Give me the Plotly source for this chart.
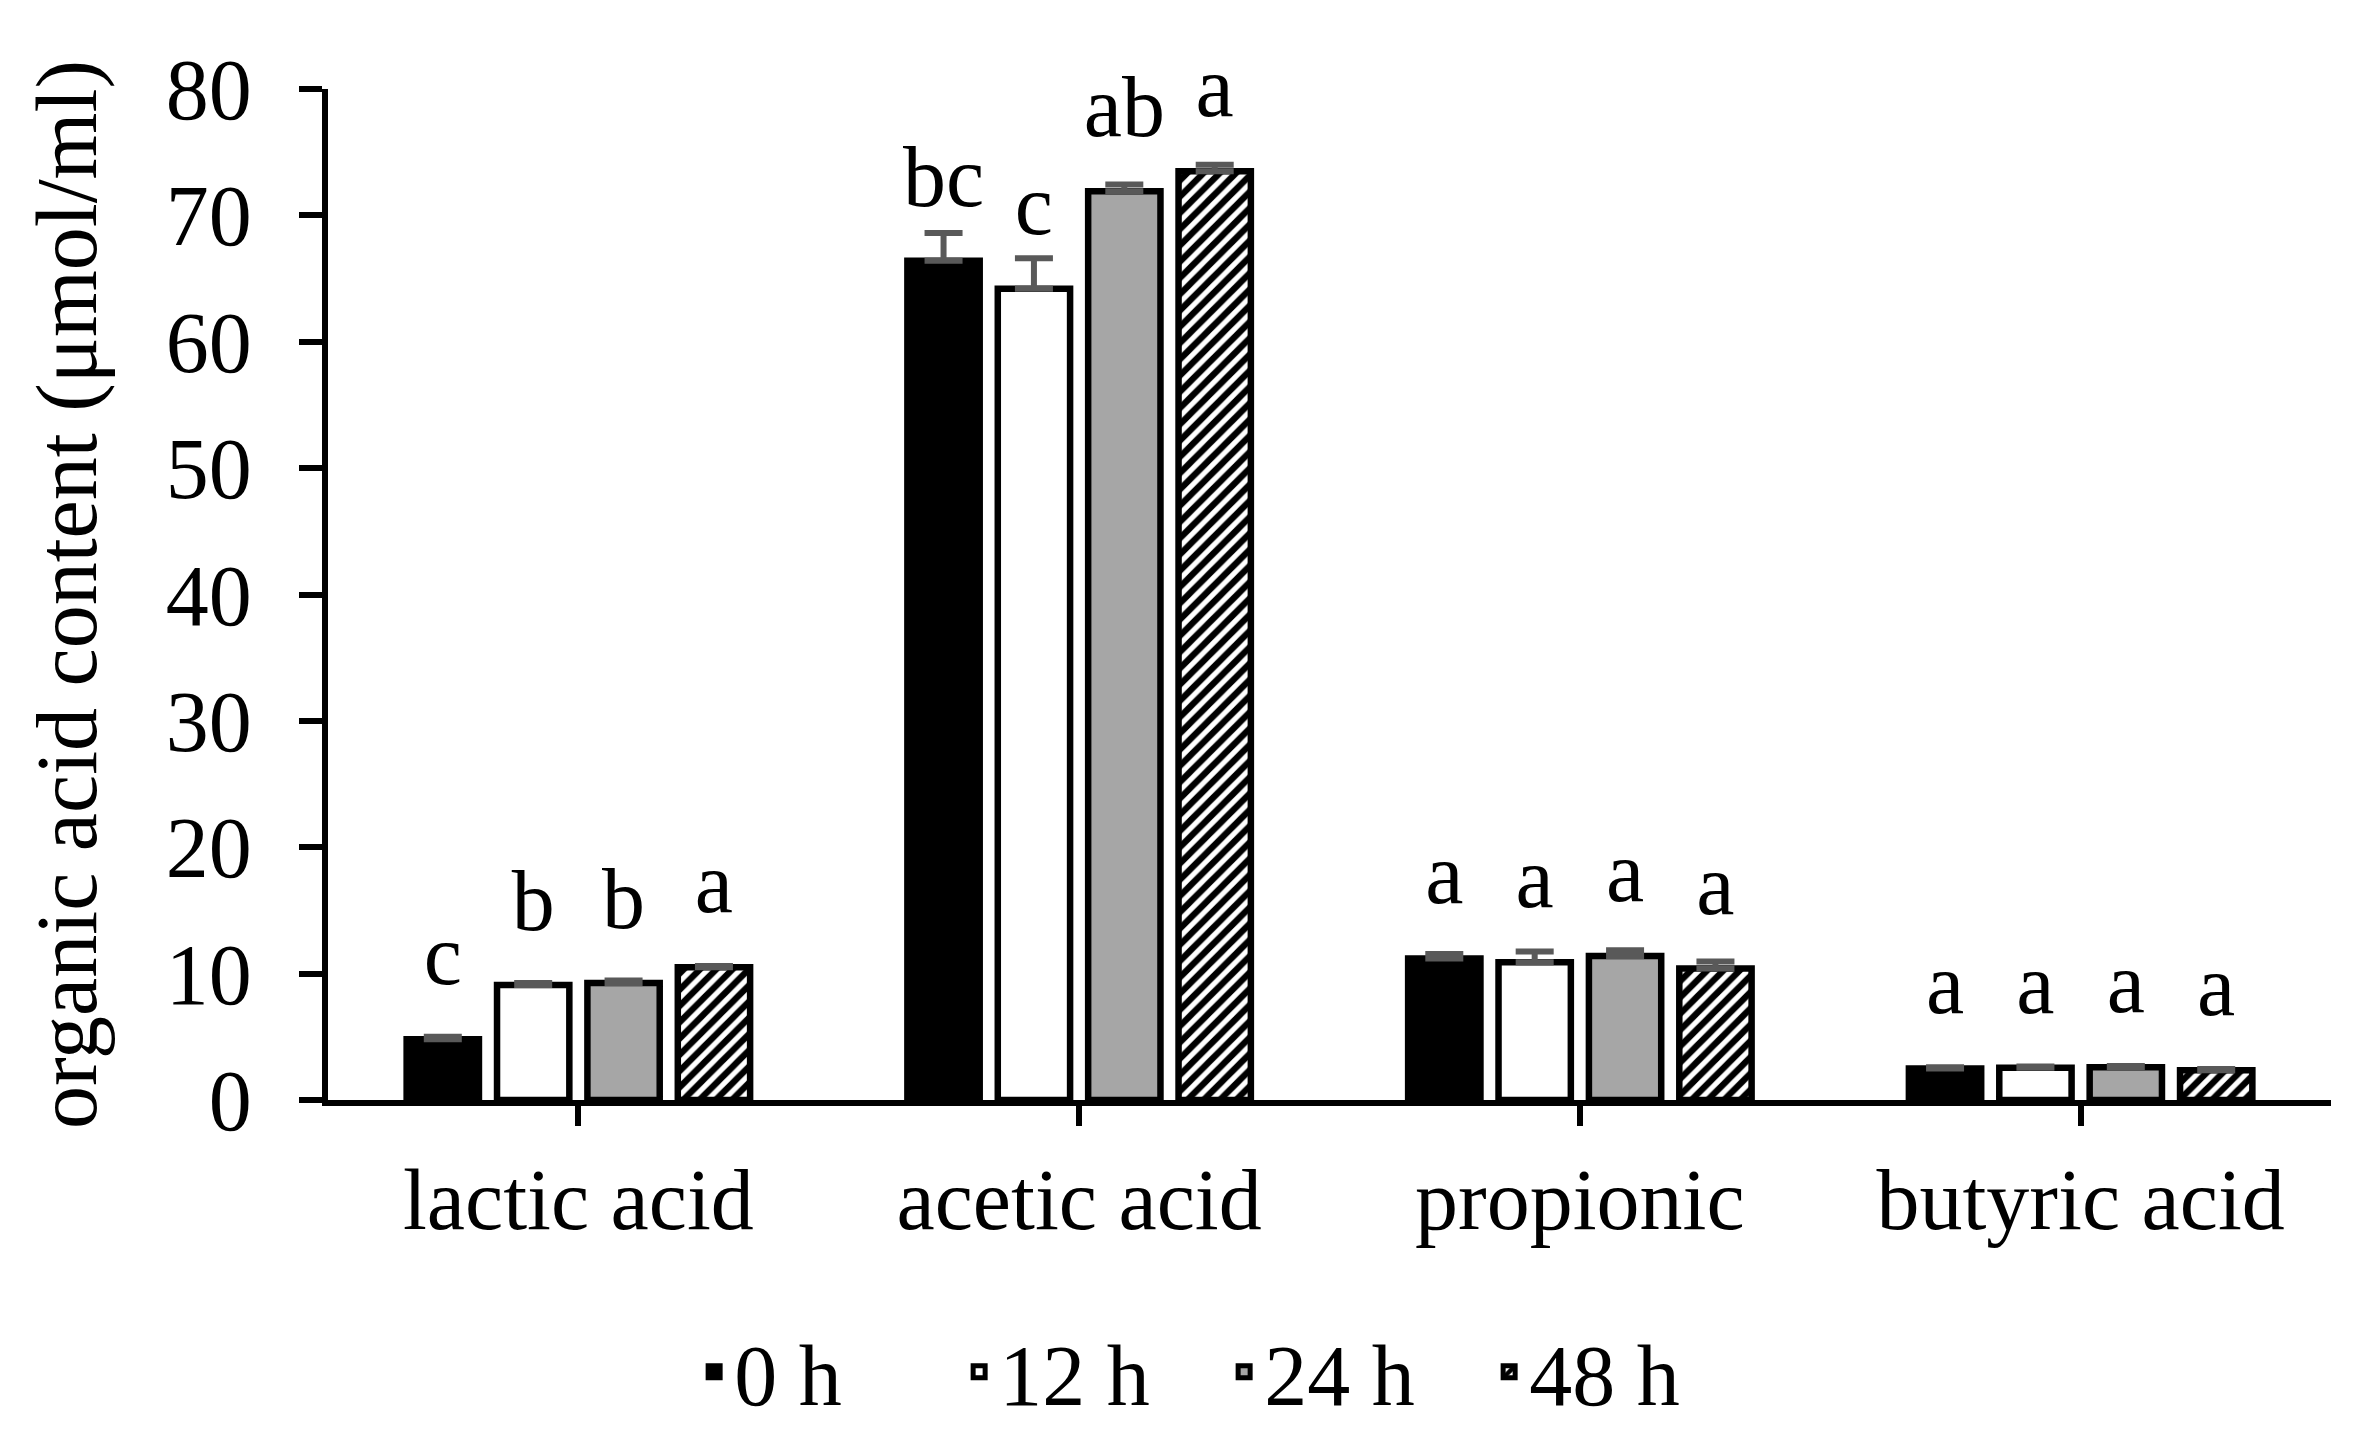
import plotly.graph_objects as go

categories = ["lactic acid", "acetic acid", "propionic", "butyric acid"]
series_names = ["0 h", "12 h", "24 h", "48 h"]

values_0h = [4.8, 66.4, 11.2, 2.5]
values_12h = [9.1, 64.2, 10.9, 2.55]
values_24h = [9.25, 71.9, 11.4, 2.6]
values_48h = [10.5, 73.5, 10.4, 2.35]

errors_0h = [0.2, 2.2, 0.35, 0.1]
errors_12h = [0.15, 2.4, 0.85, 0.1]
errors_24h = [0.2, 0.55, 0.45, 0.1]
errors_48h = [0.1, 0.5, 0.55, 0.1]

letters_0h = ["c", "bc", "a", "a"]
letters_12h = ["b", "c", "a", "a"]
letters_24h = ["b", "ab", "a", "a"]
letters_48h = ["a", "a", "a", "a"]

y_ticks = [0, 10, 20, 30, 40, 50, 60, 70, 80]

FONT = "Liberation Serif, Times New Roman, serif"
FS = 86

values = [values_0h, values_12h, values_24h, values_48h]
errors = [errors_0h, errors_12h, errors_24h, errors_48h]
letters = [letters_0h, letters_12h, letters_24h, letters_48h]

styles = [
    dict(color="black"),
    dict(color="white"),
    dict(color="#a6a6a6"),
    dict(color="white", pattern=dict(shape="/", fgcolor="black", bgcolor="white",
                                     size=11.5, solidity=0.55, fillmode="replace",
                                     fgopacity=1)),
]

fig = go.Figure()
for i, name in enumerate(series_names):
    marker = dict(line=dict(color="black", width=6.5))
    marker.update(styles[i])
    fig.add_trace(go.Bar(
        name=name, x=categories, y=values[i], offsetgroup=str(i),
        marker=marker,
        error_y=dict(type="data", array=errors[i], symmetric=False,
                     arrayminus=[0] * len(errors[i]), color="#595959",
                     thickness=6, width=19),
    ))
for i, name in enumerate(series_names):
    fig.add_trace(go.Scatter(
        x=categories, y=values[i], text=letters[i], offsetgroup=str(i),
        mode="markers+text", textposition="top center",
        marker=dict(size=52, opacity=0),
        textfont=dict(family=FONT, size=FS, color="black"),
        showlegend=False, hoverinfo="skip", cliponaxis=False,
    ))

fig.update_layout(
    width=2366, height=1435,
    margin=dict(l=320, r=43, t=81, b=343),
    paper_bgcolor="white", plot_bgcolor="white",
    barmode="group", bargap=0.278, bargroupgap=0.2,
    scattermode="group", scattergap=0.278,
    font=dict(family=FONT, size=FS, color="black"),
    showlegend=True,
    legend=dict(orientation="h", xref="container", yref="container",
                x=0.29, xanchor="left", y=0.0495, yanchor="middle",
                font=dict(family=FONT, size=FS), traceorder="normal",
                entrywidth=220),
)
fig.update_xaxes(
    showline=True, linecolor="black", linewidth=6,
    ticks="outside", ticklen=20, tickwidth=6, tickcolor="black",
    tickfont=dict(family=FONT, size=FS), showgrid=False, zeroline=False,
    automargin=False,
)
fig.update_yaxes(
    range=[0, 80], tickvals=y_ticks,
    showline=True, linecolor="black", linewidth=6,
    ticks="outside", ticklen=23, tickwidth=6, tickcolor="black",
    tickfont=dict(family=FONT, size=FS), showgrid=False, zeroline=False,
    ticklabelstandoff=30, automargin=False,
    title=dict(text="organic acid content (μmol/ml)", font=dict(family=FONT, size=FS), standoff=43),
)

fig.write_html("out.html")
